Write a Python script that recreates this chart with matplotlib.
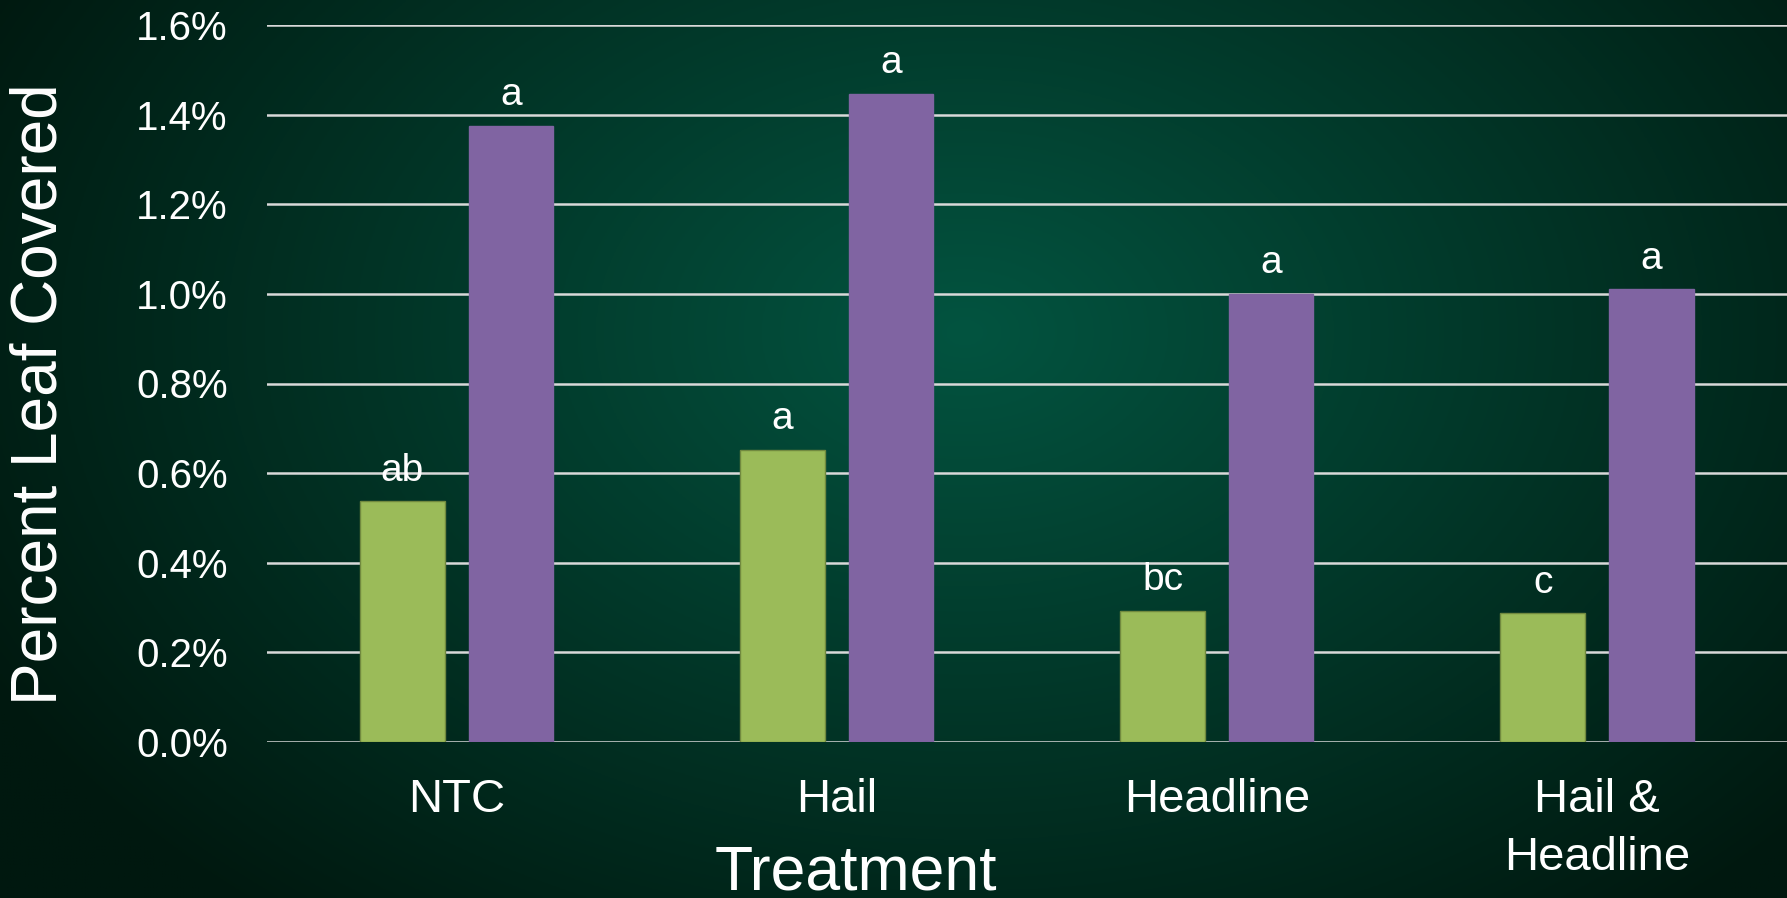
"""Percent leaf covered by treatment: grouped bars on a dark green radial background."""
import numpy as np
import matplotlib
matplotlib.use("Agg")
import matplotlib.pyplot as plt
from matplotlib.ticker import FuncFormatter

treatments = ["NTC", "Hail", "Headline", "Hail &\nHeadline"]
series_a = [0.00537, 0.00652, 0.00292, 0.00287]   # green
series_b = [0.01375, 0.01447, 0.00999, 0.01010]   # purple
letters_a = ["ab", "a", "bc", "c"]
letters_b = ["a", "a", "a", "a"]
yticks = [0.0, 0.002, 0.004, 0.006, 0.008, 0.010, 0.012, 0.014, 0.016]

GREEN, PURPLE = "#9BBB59", "#8064A2"
plt.rcParams["font.family"] = ["Liberation Sans", "DejaVu Sans"]

W, H = 1787, 898
fig = plt.figure(figsize=(W / 100, H / 100), dpi=100)

# radial background, lighter in the middle, dark toward the edges
bg = fig.add_axes([0, 0, 1, 1], zorder=-5)
yy, xx = np.mgrid[0:1:300j, 0:1:600j]
d = np.sqrt(((xx - 0.54) / 0.62) ** 2 + ((yy - 0.37) / 0.85) ** 2)
t = np.clip(d, 0, 1)[..., None]
c0 = np.array([3, 84, 64]) / 255
c1 = np.array([0, 24, 15]) / 255
bg.imshow(c0 * (1 - t) + c1 * t, aspect="auto", extent=(0, 1, 0, 1), origin="upper")
bg.axis("off")

ax = fig.add_axes([266.7 / W, 1 - 742 / H, 1 - 266.7 / W, (742 - 25) / H])
ax.set_facecolor("none")
x = np.arange(len(treatments))
bw, off = 0.222, 0.143
ba = ax.bar(x - off, series_a, bw, color=GREEN, edgecolor="#71893F", lw=1, zorder=3)
bb = ax.bar(x + off, series_b, bw, color=PURPLE, edgecolor=PURPLE, lw=1, zorder=3)
for bars, labs in ((ba, letters_a), (bb, letters_b)):
    for r, s in zip(bars, labs):
        ax.annotate(s, (r.get_x() + r.get_width() / 2, r.get_height()),
                    xytext=(0, 15), textcoords="offset points", ha="center",
                    va="baseline", color="white", fontsize=28)

ax.set_xlim(-0.5, 3.5)
ax.set_ylim(0, 0.016)
ax.set_yticks(yticks)
ax.yaxis.set_major_formatter(FuncFormatter(lambda v, _: f"{v * 100:.1f}%"))
ax.set_xticks(x)
ax.set_xticklabels(treatments, linespacing=1.42)
ax.tick_params(axis="y", length=0, pad=28, labelsize=29, labelcolor="white")
ax.tick_params(axis="x", length=0, pad=26, labelsize=34, labelcolor="white")
ax.grid(axis="y", color="#D9D9D9", lw=1.8, zorder=0)
for sp in ax.spines.values():
    sp.set_visible(False)

fig.text(856 / W, 1 - 890 / H, "Treatment", ha="center", va="baseline",
         color="white", fontsize=45)
fig.text(40 / W, 1 - 394 / H, "Percent Leaf Covered", rotation=90, ha="center",
         va="center", color="white", fontsize=46)

plt.savefig("out.png", dpi=100)
plt.close()
